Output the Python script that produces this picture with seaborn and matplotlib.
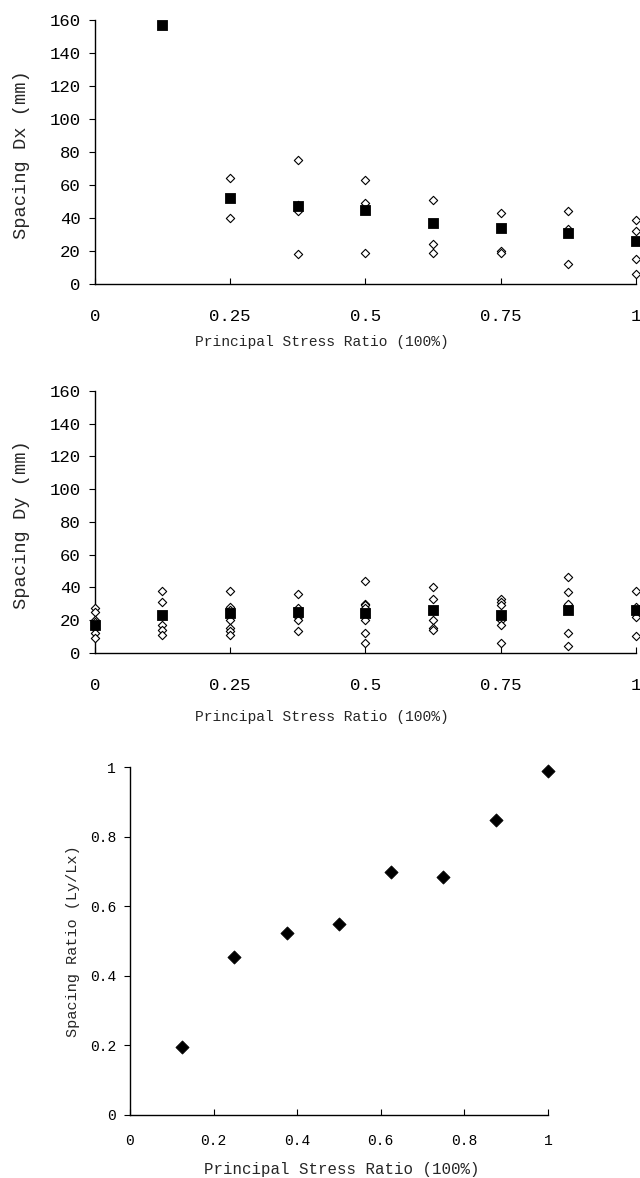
import pandas as pd
import matplotlib.pyplot as plt
import seaborn as sns

# data
ratio = [0, 0.125, 0.25, 0.375, 0.5, 0.625, 0.75, 0.875, 1.0]

# panel 1: spacing Dx
dx_mean_x = [0.125, 0.25, 0.375, 0.5, 0.625, 0.75, 0.875, 1.0]
dx_mean = [157, 52, 47, 45, 37, 34, 31, 26]
dx_samples = [
    [],
    [],
    [64, 40],
    [75, 48, 44, 18],
    [63, 49, 19],
    [51, 24, 19],
    [43, 20, 19],
    [44, 33, 12],
    [39, 32, 15, 6],
]

# panel 2: spacing Dy
dy_mean = [17, 23, 24, 25, 24, 26, 23, 26, 26]
dy_samples = [
    [27, 25, 20, 19, 15, 12, 9],
    [38, 31, 17, 14, 11],
    [38, 28, 26, 20, 15, 13, 11],
    [36, 27, 22, 20, 13],
    [44, 30, 29, 27, 20, 12, 6],
    [40, 33, 26, 20, 15, 14],
    [33, 31, 29, 20, 17, 6],
    [46, 37, 30, 12, 4],
    [38, 28, 22, 10],
]

# panel 3: spacing ratio Ly/Lx
sr_x = [0.125, 0.25, 0.375, 0.5, 0.625, 0.75, 0.875, 1.0]
sr_y = [0.195, 0.455, 0.525, 0.55, 0.70, 0.685, 0.85, 0.99]

xt_top = [0, 0.25, 0.5, 0.75, 1]
xt_top_labels = ["0", "0.25", "0.5", "0.75", "1"]
yt_top = [0, 20, 40, 60, 80, 100, 120, 140, 160]
t3 = [0, 0.2, 0.4, 0.6, 0.8, 1.0]
t3_labels = ["0", "0.2", "0.4", "0.6", "0.8", "1"]
xlabel = "Principal Stress Ratio (100%)"


def long_form(xs, samples):
    rows = []
    for x, vals in zip(xs, samples):
        for v in vals:
            rows.append((x, v))
    return pd.DataFrame(rows, columns=["x", "y"])


sns.set_style("ticks")
plt.rcParams['font.family'] = ['Liberation Mono', 'DejaVu Sans Mono']
plt.rcParams['font.size'] = 11

fig = plt.figure(figsize=(6.4, 11.78), dpi=100)
ax1 = fig.add_axes([0.148, 0.759, 0.846, 0.224])
ax2 = fig.add_axes([0.148, 0.446, 0.846, 0.222])
ax3 = fig.add_axes([0.203, 0.0535, 0.653, 0.295])

open_kw = dict(marker="D", s=18, facecolor="white", edgecolor="black",
               linewidth=0.8, zorder=3)
sq_kw = dict(marker="s", s=55, color="black", edgecolor="black", zorder=4)

# Dx
sns.scatterplot(data=long_form(ratio, dx_samples), x="x", y="y", ax=ax1, **open_kw)
sns.scatterplot(x=dx_mean_x, y=dx_mean, ax=ax1, **sq_kw)
ax1.set_ylabel("Spacing Dx (mm)", fontsize=13.5)

# Dy
sns.scatterplot(data=long_form(ratio, dy_samples), x="x", y="y", ax=ax2, **open_kw)
sns.scatterplot(x=ratio, y=dy_mean, ax=ax2, **sq_kw)
ax2.set_ylabel("Spacing Dy (mm)", fontsize=13.5)

for ax in (ax1, ax2):
    ax.set_xlim(0, 1)
    ax.set_ylim(0, 160)
    ax.set_xticks(xt_top)
    ax.set_xticklabels(xt_top_labels)
    ax.set_yticks(yt_top)
    ax.set_xlabel(xlabel, fontsize=10.5)
    ax.tick_params(labelsize=12.5)
    ax.tick_params(axis="x", pad=18)
    ax.yaxis.set_label_coords(-0.12, 0.49)

ax1.xaxis.set_label_coords(0.42, -0.195)
ax2.xaxis.set_label_coords(0.42, -0.221)

# spacing ratio
sns.scatterplot(x=sr_x, y=sr_y, ax=ax3, marker="D", s=45, color="black",
                edgecolor="black", zorder=4)
ax3.set_xlim(0, 1)
ax3.set_ylim(0, 1)
ax3.set_xticks(t3)
ax3.set_xticklabels(t3_labels)
ax3.set_yticks(t3)
ax3.set_yticklabels(t3_labels)
ax3.set_xlabel(xlabel, fontsize=11.3)
ax3.set_ylabel("Spacing Ratio (Ly/Lx)", fontsize=11)
ax3.tick_params(labelsize=10.5)
ax3.tick_params(axis="x", pad=14)
ax3.xaxis.set_label_coords(0.507, -0.135)
ax3.yaxis.set_label_coords(-0.12, 0.5)

for ax in (ax1, ax2, ax3):
    sns.despine(ax=ax)
    for sp in ("left", "bottom"):
        ax.spines[sp].set_color("black")
        ax.spines[sp].set_linewidth(1.0)
        ax.spines[sp].set_clip_on(False)
    ax.tick_params(axis="x", direction="in", length=4, colors="black")
    ax.tick_params(axis="y", direction="out", length=4, pad=6, colors="black")
    for c in ax.collections:
        c.set_clip_on(False)

fig.savefig("out.png", dpi=100)
